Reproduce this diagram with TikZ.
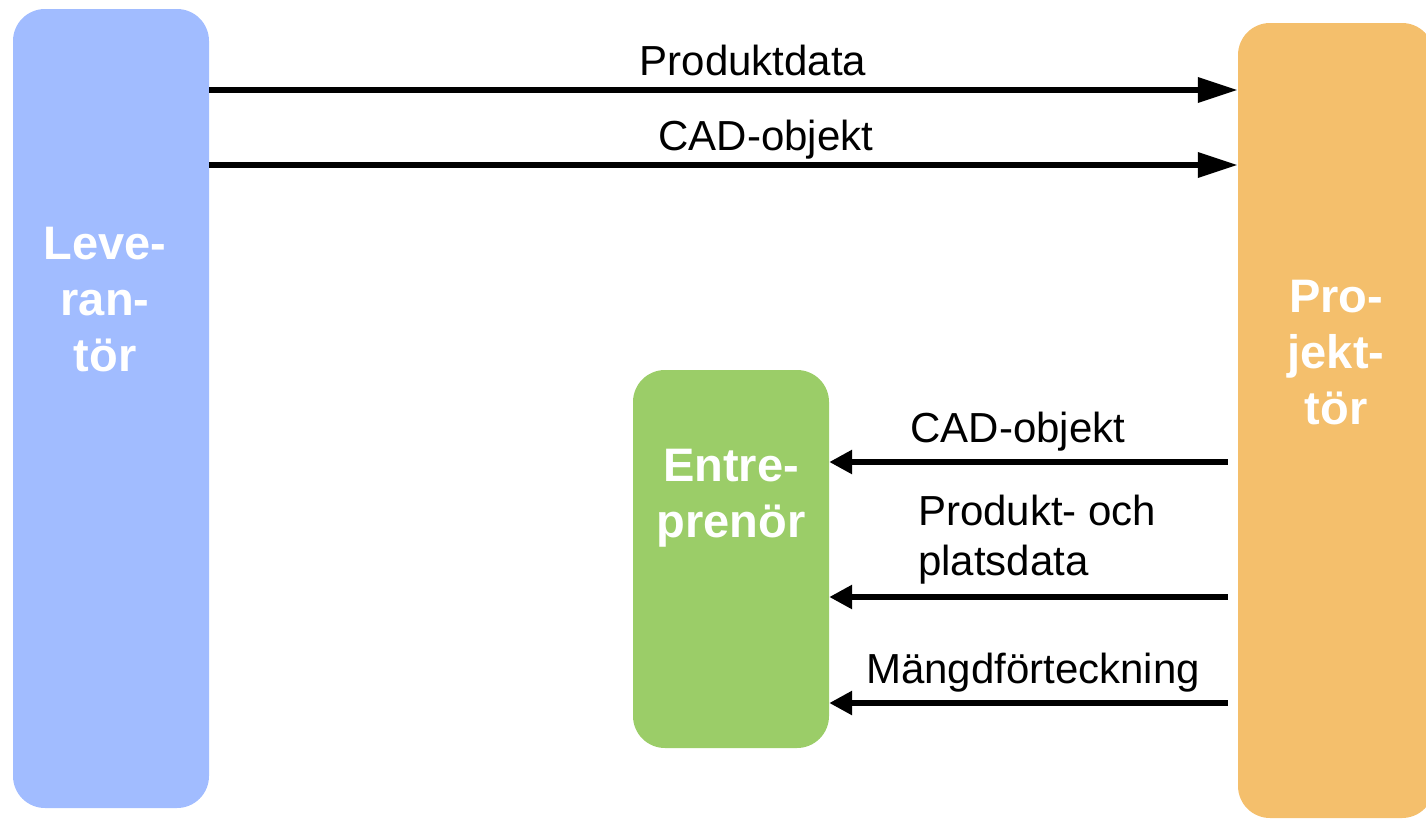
\documentclass[tikz,border=0pt]{standalone}
\usepackage{fontspec}
\setmainfont{Liberation Sans}
\usetikzlibrary{arrows.meta,positioning}
\definecolor{levblue}{RGB}{161,188,255}
\definecolor{projorange}{RGB}{244,191,108}
\definecolor{entrgreen}{RGB}{155,205,104}

\begin{document}
\begin{tikzpicture}[x=1pt,y=-1pt,
	actor/.style={rounded corners=32pt,minimum width=196pt,inner sep=0pt},
	actortext/.style={text=white,font=\fontsize{47}{56}\selectfont\bfseries,align=center},
	flowtext/.style={font=\fontsize{42}{50}\selectfont,anchor=base},
	fwd/.style={line width=6.5pt,-{Triangle[length=40pt,width=24pt]}},
	back/.style={line width=6.5pt,-{Triangle[length=23pt,width=23pt]}}]
	\useasboundingbox (0,0) rectangle (1426,819);
	
	% the three parties
	\node[actor,fill=levblue,minimum height=799pt] (lev) at (111,408.5) {};
	\node[actor,fill=projorange,minimum height=795pt] (proj) at (1336,420.5) {};
	\node[actor,fill=entrgreen,minimum height=378pt] (entr) at (731,559) {};
	\node[actortext] (levtext) at (105,300) {Leve-\\ran-\\tör};
	\node[actortext] (projtext) at (1336,353) {Pro-\\jekt-\\tör};
	\node[actortext] (entrtext) at (731,498) {Entre-\\prenör};
	
	% flows
	\coordinate (r1) at (0,90);
	\coordinate (r2) at (0,165);
	\coordinate (r3) at (0,462);
	\coordinate (r4) at (0,597);
	\coordinate (r5) at (0,703);
	\draw[fwd] (lev.east |- r1) -- (proj.west |- r1);
	\draw[fwd] (lev.east |- r2) -- (proj.west |- r2);
	\draw[back] ([xshift=-10pt]proj.west |- r3) -- (entr.east |- r3);
	\draw[back] ([xshift=-10pt]proj.west |- r4) -- (entr.east |- r4);
	\draw[back] ([xshift=-10pt]proj.west |- r5) -- (entr.east |- r5);
	
	\node[flowtext] (prodlbl) at (753,75) {Produktdata};
	\node[flowtext] (cadlbl) at (766,150) {CAD-objekt};
	\node[flowtext] (cadlbl2) at (1018,442) {CAD-objekt};
	\node[flowtext,anchor=base west,align=left,inner sep=0pt] (platslbl) at (918,575) {Produkt- och\\platsdata};
	\node[flowtext] (mangdlbl) at (1033,683) {Mängdförteckning};
\end{tikzpicture}
\end{document}
